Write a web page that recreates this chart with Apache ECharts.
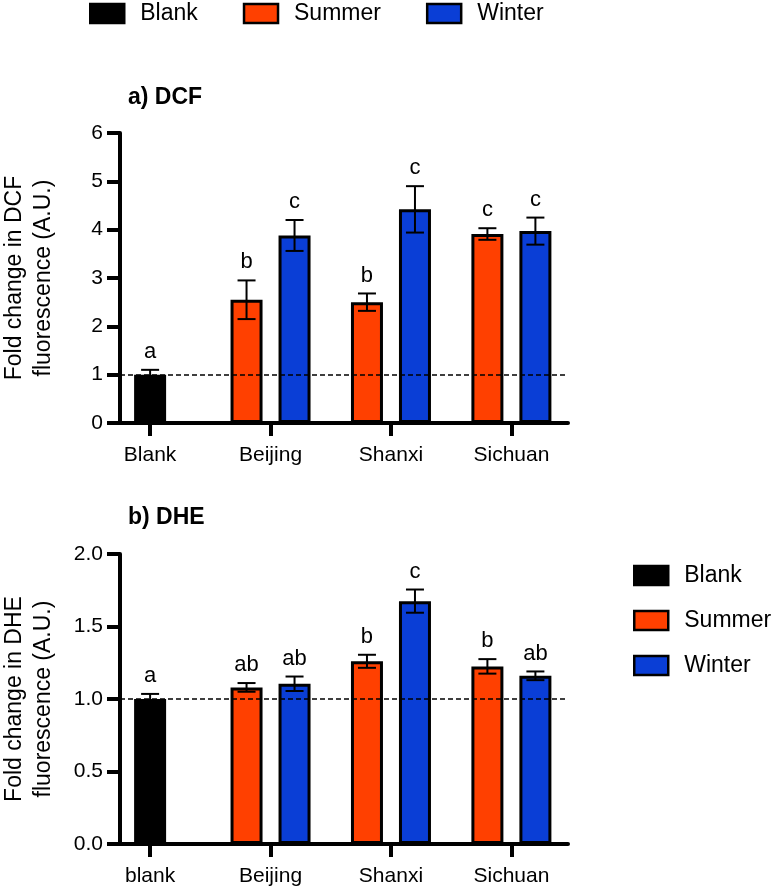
<!DOCTYPE html>
<html>
<head>
<meta charset="utf-8">
<script src="https://cdn.jsdelivr.net/npm/echarts@6/dist/echarts.min.js"></script>
<style>
  html, body { margin: 0; padding: 0; background: #fff; }
  #chart { width: 774px; height: 889px; }
</style>
</head>
<body>
<div id="chart"></div>
<script>
// ---------- data ----------
const categoriesA = ['Blank', 'Beijing', 'Shanxi', 'Sichuan'];
const categoriesB = ['blank', 'Beijing', 'Shanxi', 'Sichuan'];
const seriesNames = ['Blank', 'Summer', 'Winter'];

// a) DCF
const blankA = [1.00];
const blankErrA = [0.10];
const blankLettersA = ['a'];
const summerA = [2.55, 2.50, 3.91];
const summerErrA = [0.40, 0.18, 0.12];
const summerLettersA = ['b', 'b', 'c'];
const winterA = [3.88, 4.42, 3.97];
const winterErrA = [0.32, 0.48, 0.28];
const winterLettersA = ['c', 'c', 'c'];

// b) DHE
const blankB = [1.00];
const blankErrB = [0.035];
const blankLettersB = ['a'];
const summerB = [1.08, 1.26, 1.225];
const summerErrB = [0.03, 0.045, 0.05];
const summerLettersB = ['ab', 'b', 'b'];
const winterB = [1.105, 1.675, 1.16];
const winterErrB = [0.05, 0.08, 0.03];
const winterLettersB = ['ab', 'c', 'ab'];

const yTicksA = { min: 0, max: 6, interval: 1 };
const yTicksB = { min: 0, max: 2, interval: 0.5 };
const referenceLine = 1;

// ---------- styles ----------
const FONT = "'Liberation Sans', Arial, Helvetica, sans-serif";
const COLORS = { Blank: '#000000', Summer: '#FF4000', Winter: '#0A3ED6' };
const BAR_W = 32;
const BAR_GAP = '50%';
const PAIR_OFFSET = 24;   // half distance between paired bars (px)
const catIdx = [0, 1, 2, 3];

function xAxisDef(gridIndex, cats, visible) {
  return {
    type: 'value', gridIndex: gridIndex, min: -0.25, max: 3.47,
    show: visible,
    axisLine: { show: true, onZero: false, lineStyle: { color: '#000', width: 4 } },
    axisTick: { show: true, customValues: catIdx, length: 13, lineStyle: { color: '#000', width: 4 } },
    axisLabel: {
      show: true, customValues: catIdx, margin: 22,
      formatter: v => cats[Math.round(v)] || '',
      color: '#000', fontSize: 21, fontFamily: FONT
    },
    splitLine: { show: false }
  };
}

function yAxisDef(gridIndex, t, name, fmt) {
  return {
    type: 'value', gridIndex: gridIndex, min: t.min, max: t.max, interval: t.interval,
    name: name, nameLocation: 'middle', nameGap: 62, nameMoveOverlap: false,
    nameTextStyle: { color: '#000', fontSize: 23, lineHeight: 29, fontFamily: FONT, align: 'center' },
    axisLine: { show: true, onZero: false, lineStyle: { color: '#000', width: 4 } },
    axisTick: { show: true, length: 13, lineStyle: { color: '#000', width: 4 } },
    axisLabel: { color: '#000', fontSize: 21, fontFamily: FONT, margin: 17, formatter: fmt },
    splitLine: { show: false }
  };
}

function barSeries(name, xAxisIndex, yAxisIndex, xs, vals, withRef) {
  const s = {
    type: 'bar', name: name, xAxisIndex: xAxisIndex, yAxisIndex: yAxisIndex,
    data: vals.map((v, i) => [xs[i], v]),
    barWidth: BAR_W, barGap: BAR_GAP,
    itemStyle: { color: COLORS[name], borderColor: '#000', borderWidth: 3 },
    emphasis: { disabled: true },
    z: 2
  };
  if (withRef) {
    s.markLine = {
      silent: true, symbol: ['none', 'none'],
      label: { show: false },
      lineStyle: { color: '#000', type: [5, 3], width: 1.5 },
      data: [{ yAxis: referenceLine }],
      z: 5
    };
  }
  return s;
}

function errSeries(xAxisIndex, yAxisIndex, xs, vals, errs, letters, offset) {
  return {
    type: 'custom', xAxisIndex: xAxisIndex, yAxisIndex: yAxisIndex,
    data: vals.map((v, i) => [xs[i], v, errs[i]]),
    clip: false, silent: true, z: 4,
    renderItem: function (params, api) {
      const x = api.value(0), m = api.value(1), e = api.value(2);
      const top = api.coord([x, m + e]);
      const bot = api.coord([x, m - e]);
      const cx = top[0] + offset;
      const cap = 9;
      const st = { stroke: '#000', lineWidth: 2 };
      return {
        type: 'group',
        children: [
          { type: 'line', shape: { x1: cx, y1: top[1], x2: cx, y2: bot[1] }, style: st },
          { type: 'line', shape: { x1: cx - cap, y1: top[1], x2: cx + cap, y2: top[1] }, style: st },
          { type: 'line', shape: { x1: cx - cap, y1: bot[1], x2: cx + cap, y2: bot[1] }, style: st },
          { type: 'text', style: {
              x: cx, y: top[1] - 7, text: letters[params.dataIndex],
              fill: '#000', font: '22px ' + FONT, align: 'center', verticalAlign: 'bottom' } }
        ]
      };
    }
  };
}

const pairX = [1, 2, 3];
const blankX = [0];

const legendCommon = {
  data: seriesNames, icon: 'rect', itemWidth: 34, itemHeight: 19,
  selectedMode: false, padding: 0,
  itemStyle: { borderColor: '#000', borderWidth: 2.5 },
  textStyle: { color: '#000', fontSize: 23, fontFamily: FONT, padding: [0, 0, 0, 11] }
};

const titleStyle = { fontSize: 23, fontWeight: 'bold', color: '#000', fontFamily: FONT };

const option = {
  animation: false,
  backgroundColor: '#fff',
  textStyle: { fontFamily: FONT },
  title: [
    { text: 'a) DCF', left: 123, top: 81, textStyle: titleStyle },
    { text: 'b) DHE', left: 123, top: 501, textStyle: titleStyle }
  ],
  legend: [
    Object.assign({}, legendCommon, { orient: 'horizontal', left: 89, top: 2, itemGap: 45 }),
    Object.assign({}, legendCommon, { orient: 'vertical', left: 633, top: 564, itemGap: 22 })
  ],
  grid: [
    { left: 120, top: 133, width: 448, height: 290, containLabel: false, outerBoundsMode: 'none' },
    { left: 120, top: 554, width: 448, height: 290, containLabel: false, outerBoundsMode: 'none' }
  ],
  xAxis: [
    xAxisDef(0, categoriesA, true),
    xAxisDef(0, categoriesA, false),
    xAxisDef(1, categoriesB, true),
    xAxisDef(1, categoriesB, false)
  ],
  yAxis: [
    yAxisDef(0, yTicksA, 'Fold change in DCF\nfluorescence (A.U.)', v => String(v)),
    yAxisDef(1, yTicksB, 'Fold change in DHE\nfluorescence (A.U.)', v => v.toFixed(1))
  ],
  series: [
    // panel a
    barSeries('Blank', 1, 0, blankX, blankA, false),
    barSeries('Summer', 0, 0, pairX, summerA, true),
    barSeries('Winter', 0, 0, pairX, winterA, false),
    errSeries(1, 0, blankX, blankA, blankErrA, blankLettersA, 0),
    errSeries(0, 0, pairX, summerA, summerErrA, summerLettersA, -PAIR_OFFSET),
    errSeries(0, 0, pairX, winterA, winterErrA, winterLettersA, PAIR_OFFSET),
    // panel b
    barSeries('Blank', 3, 1, blankX, blankB, false),
    barSeries('Summer', 2, 1, pairX, summerB, true),
    barSeries('Winter', 2, 1, pairX, winterB, false),
    errSeries(3, 1, blankX, blankB, blankErrB, blankLettersB, 0),
    errSeries(2, 1, pairX, summerB, summerErrB, summerLettersB, -PAIR_OFFSET),
    errSeries(2, 1, pairX, winterB, winterErrB, winterLettersB, PAIR_OFFSET)
  ]
};

const chart = echarts.init(document.getElementById('chart'), null, { renderer: 'canvas' });
chart.setOption(option);
</script>
</body>
</html>
